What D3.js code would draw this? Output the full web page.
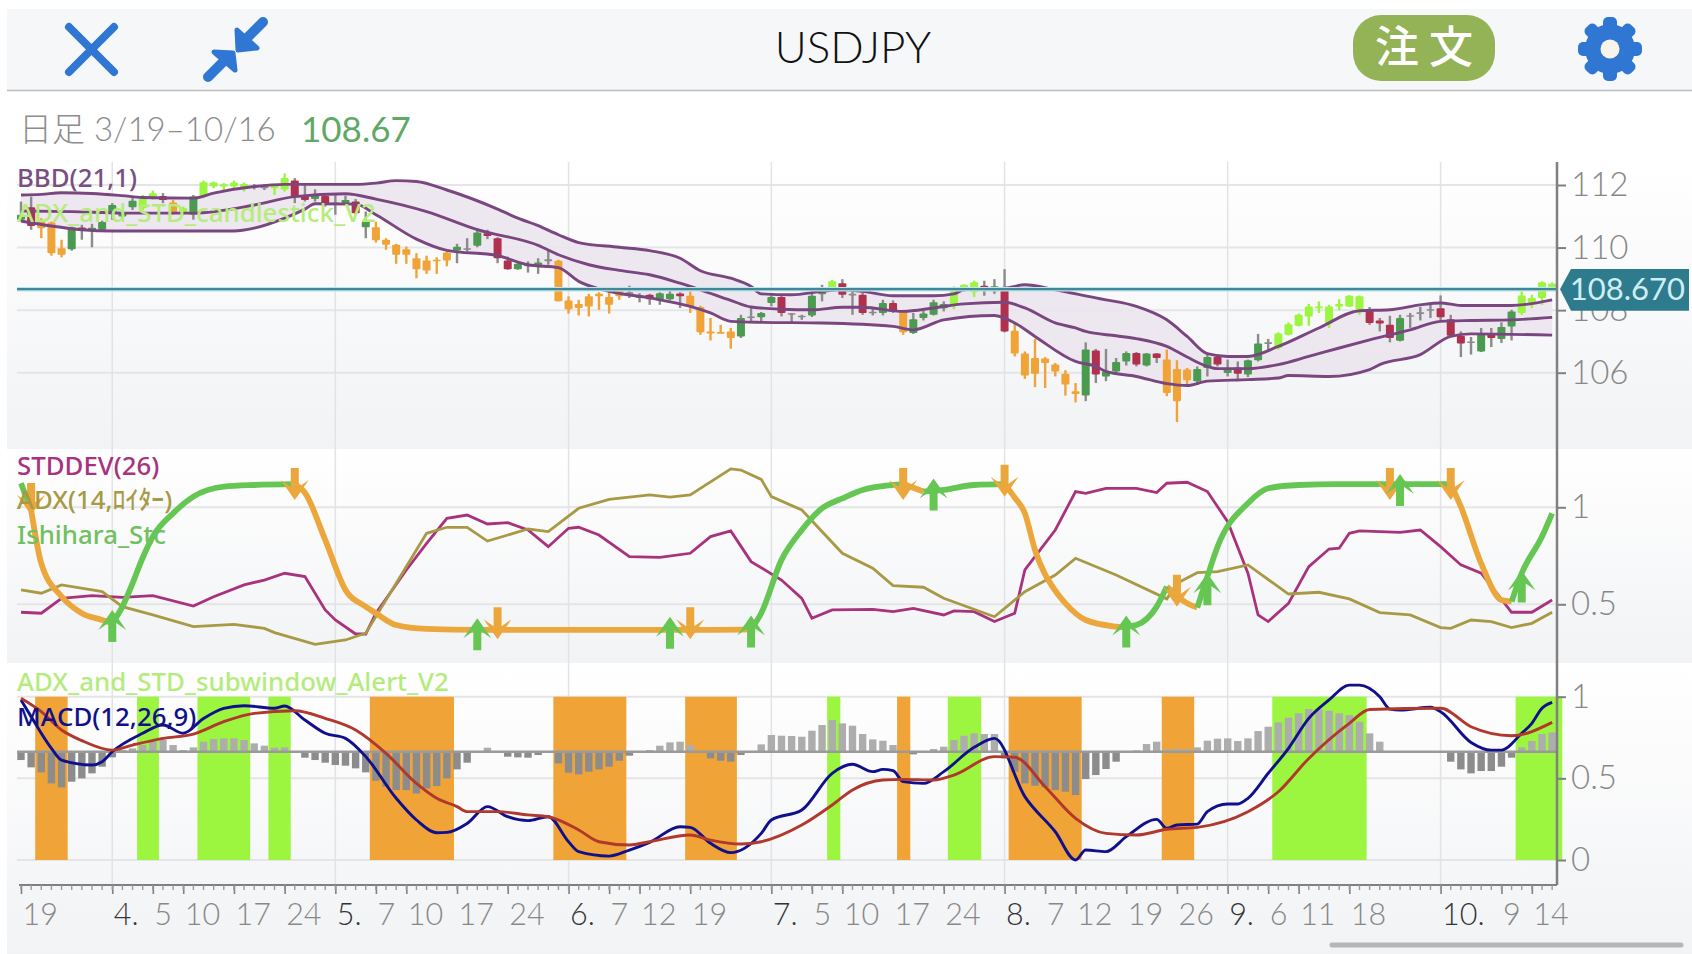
<!DOCTYPE html>
<html><head><meta charset="utf-8">
<script src="https://cdn.jsdelivr.net/npm/d3@7/dist/d3.min.js"></script>
<style>html,body{margin:0;padding:0;background:#fff;overflow:hidden}svg{display:block}text{font-family:Lato,"Noto Sans","Noto Sans CJK JP",sans-serif}</style>
</head><body><svg id="c" width="1692" height="954"></svg>
<script>
// ---------- data (high, body top, body bottom, low, kind: L strong up, G up, R down, O strong down)
const candlesMar=[[111.47,111.05,110.89,110.83,'G'],[111.63,111.29,110.69,110.57,'R'],[110.94,110.83,110.62,110.30,'O'],[110.83,110.80,109.82,109.74,'O'],[110.25,109.98,109.77,109.69,'O'],[110.67,110.65,109.95,109.90,'G'],[110.73,110.64,110.53,110.25,'R'],[110.76,110.63,110.55,110.01,'G'],[110.86,110.82,110.57,110.53,'G']];
const candlesApr=[[111.42,111.36,111.08,110.89,'G'],[111.20,111.10,110.99,110.94,'G'],[111.58,111.50,111.29,111.20,'G'],[111.68,111.63,111.26,111.18,'L'],[111.82,111.74,111.58,111.52,'L'],[111.74,111.65,111.52,111.42,'R'],[111.52,111.44,111.10,111.05,'O'],[111.31,111.26,111.10,111.05,'L'],[111.68,111.63,111.05,110.89,'G'],[112.14,112.09,111.63,111.58,'L'],[112.11,112.08,111.95,111.90,'L'],[112.06,112.02,111.95,111.82,'L'],[112.14,112.08,111.95,111.90,'L'],[112.08,112.03,111.90,111.79,'L'],[112.03,111.97,111.93,111.86,'G'],[112.03,111.97,111.90,111.84,'G'],[112.02,111.97,111.90,111.68,'L'],[112.37,112.22,111.86,111.79,'L'],[112.22,112.14,111.63,111.42,'R'],[112.00,111.63,111.52,111.47,'R'],[111.86,111.70,111.55,111.47,'G'],[111.74,111.65,111.40,111.31,'R']];
const candlesMay=[[111.68,111.44,111.40,111.05,'G'],[111.66,111.52,111.42,111.36,'G'],[111.55,111.47,111.10,111.05,'R'],[111.15,110.83,110.65,110.30,'G'],[110.83,110.65,110.23,110.16,'O'],[110.30,110.25,110.09,109.93,'O'],[110.12,110.09,109.77,109.48,'O'],[110.03,109.95,109.77,109.48,'O'],[109.82,109.66,109.31,109.02,'O'],[109.74,109.59,109.27,109.16,'O'],[109.69,109.61,109.56,109.16,'O'],[109.87,109.84,109.59,109.40,'O'],[110.12,110.03,109.91,109.50,'G'],[110.30,109.98,109.96,109.87,'G'],[110.62,110.48,110.06,110.01,'G'],[110.57,110.46,110.37,110.27,'R'],[110.33,110.30,109.66,109.50,'R'],[109.71,109.59,109.31,109.29,'R'],[109.52,109.48,109.31,109.29,'G'],[109.56,109.47,109.40,109.20,'R'],[109.66,109.52,109.40,109.16,'G'],[109.93,109.63,109.56,109.45,'G'],[109.61,109.58,108.28,108.28,'O']];
const candlesJun=[[108.44,108.31,108.03,107.89,'O'],[108.33,108.20,108.07,107.83,'O'],[108.52,108.44,108.12,107.80,'O'],[108.57,108.52,108.44,108.01,'O'],[108.65,108.42,108.17,107.89,'O'],[108.70,108.63,108.44,108.33,'O'],[108.78,108.57,108.51,108.39,'G'],[108.54,108.44,108.41,108.25,'G'],[108.52,108.49,108.35,108.17,'R'],[108.57,108.54,108.33,108.17,'G'],[108.67,108.52,108.35,108.31,'G'],[108.57,108.53,108.44,108.07,'R'],[108.60,108.46,108.12,107.91,'O'],[108.14,108.10,107.29,107.21,'O'],[107.75,107.32,107.25,107.03,'O'],[107.53,107.30,107.27,107.25,'O'],[107.43,107.32,107.11,106.77,'O'],[107.85,107.75,107.16,107.11,'G'],[108.10,107.80,107.75,107.64,'G'],[107.94,107.91,107.77,107.64,'G']];
const candlesJul=[[108.49,108.42,108.23,108.12,'G'],[108.46,108.42,107.91,107.80,'R'],[107.91,107.90,107.86,107.59,'R'],[107.85,107.82,107.80,107.69,'G'],[108.65,108.46,107.83,107.78,'G'],[108.81,108.74,108.51,108.28,'G'],[108.97,108.92,108.70,108.67,'L'],[108.99,108.86,108.49,108.39,'R'],[108.60,108.52,108.48,107.85,'G'],[108.57,108.49,107.91,107.85,'R'],[108.07,107.95,107.91,107.83,'G'],[108.33,108.23,107.91,107.83,'G'],[108.31,108.23,107.96,107.91,'R'],[108.01,107.96,107.29,107.21,'O'],[107.91,107.71,107.27,107.24,'G'],[107.98,107.89,107.75,107.67,'G'],[108.33,108.25,107.85,107.83,'G'],[108.28,108.20,108.06,107.96,'G'],[108.76,108.65,108.14,108.03,'L'],[108.83,108.81,108.65,108.60,'L'],[108.94,108.89,108.57,108.42,'L'],[108.94,108.78,108.65,108.46,'R'],[108.99,108.76,108.60,108.52,'G']];
const candlesAug=[[109.31,108.65,107.32,107.29,'R'],[107.59,107.34,106.61,106.52,'O'],[106.68,106.61,105.91,105.80,'O'],[107.08,106.47,105.97,105.54,'O'],[106.50,106.45,106.31,105.51,'O'],[106.31,106.26,106.04,105.88,'O'],[106.08,105.97,105.62,105.27,'O'],[105.67,105.41,105.32,105.05,'O'],[106.97,106.74,105.27,105.09,'G'],[106.76,106.71,105.94,105.67,'R'],[106.76,106.04,105.88,105.73,'G'],[106.47,106.34,106.04,105.99,'G'],[106.68,106.63,106.36,106.23,'G'],[106.66,106.63,106.26,106.20,'R'],[106.63,106.61,106.23,106.20,'G'],[106.63,106.61,106.47,106.31,'R'],[106.74,106.42,105.35,105.25,'O'],[106.40,106.12,105.09,104.42,'O'],[106.15,106.10,105.76,105.62,'O'],[106.20,106.12,105.73,105.62,'G'],[106.58,106.50,106.15,105.88,'G'],[106.54,106.50,106.26,106.20,'R']];
const candlesSep=[[106.42,106.15,105.99,105.88,'G'],[106.36,106.17,105.97,105.80,'R'],[106.42,106.40,105.94,105.86,'G'],[107.24,106.93,106.40,106.36,'G'],[107.08,106.97,106.93,106.70,'G'],[107.29,107.25,106.79,106.74,'L'],[107.61,107.55,107.21,107.19,'L'],[107.89,107.85,107.50,107.48,'L'],[108.20,108.12,107.80,107.50,'L'],[108.28,108.12,108.06,107.91,'L'],[108.17,108.12,107.57,107.43,'L'],[108.35,108.20,108.12,107.99,'L'],[108.48,108.46,108.12,108.10,'L'],[108.47,108.44,108.01,107.85,'L'],[108.10,107.98,107.59,107.53,'R'],[107.75,107.67,107.57,107.32,'R'],[107.82,107.53,107.11,106.97,'R'],[107.85,107.75,107.02,107.00,'G'],[107.91,107.84,107.79,107.43,'G'],[108.10,107.93,107.89,107.67,'G'],[108.20,108.03,107.99,107.75,'G']];
const candlesOct=[[108.47,108.06,107.77,107.67,'R'],[107.85,107.71,107.18,107.14,'R'],[107.32,107.18,106.93,106.50,'R'],[107.14,107.00,106.97,106.58,'G'],[107.43,107.21,106.68,106.66,'G'],[107.43,107.25,107.11,106.82,'R'],[107.61,107.46,107.08,106.95,'G'],[108.01,107.96,107.48,107.03,'G'],[108.60,108.47,107.91,107.85,'L'],[108.49,108.39,108.20,108.07,'L'],[108.92,108.89,108.39,108.17,'L'],[108.89,108.84,108.65,108.60,'L']];

const bbUpper=[[0,111.68],[2,111.70],[4,111.75],[7,111.73],[10,111.66],[12,111.60],[17,111.58],[19,111.74],[23,111.95],[26,112.02],[28,112.02],[33,112.02],[35,112.06],[37,112.14],[39,112.11],[42,111.84],[47,111.23],[49,110.94],[51,110.70],[53,110.41],[55,110.16],[59,110.01],[62,109.90],[65,109.66],[67,109.26],[70,109.02],[72,108.76],[73,108.52],[76,108.49],[79,108.60],[81,108.65],[83,108.60],[86,108.46],[90,108.46],[92,108.52],[93,108.65],[97,108.70],[99,108.81],[102,108.65],[106,108.39],[107,108.33],[110,108.12],[113,107.69],[115,107.16],[117,106.61],[119,106.52],[121,106.52],[124,106.84],[128,107.43],[132,107.98],[135,108.01],[138,108.17],[140,108.23],[142,108.15],[147,108.15],[151,108.33]];
const bbMiddle=[[0,111.17],[5,111.15],[10,111.10],[17,111.10],[23,111.36],[27,111.63],[32,111.72],[35,111.55],[40,111.15],[45,110.57],[51,110.07],[53,109.77],[56,109.45],[59,109.27],[62,109.13],[65,108.86],[67,108.65],[70,108.31],[72,108.10],[75,108.03],[78,108.01],[81,108.09],[83,108.09],[87,107.96],[90,108.07],[93,108.20],[97,108.25],[99,108.07],[102,107.59],[104,107.43],[105,107.32],[108,107.18],[110,107.09],[113,106.84],[115,106.50],[117,106.20],[118,106.13],[121,106.13],[124,106.26],[127,106.52],[130,106.79],[133,107.05],[137,107.37],[140,107.64],[143,107.67],[147,107.69],[151,107.77]];
const bbLower=[[0,110.85],[3,110.69],[6,110.57],[9,110.53],[17,110.53],[21,110.53],[23,110.62],[26,110.94],[28,111.23],[29,111.40],[33,111.39],[35,111.05],[39,110.27],[42,109.91],[47,109.74],[50,109.45],[53,109.36],[55,108.92],[58,108.60],[62,108.39],[66,108.12],[68,107.91],[70,107.64],[73,107.61],[79,107.59],[86,107.48],[88,107.37],[91,107.69],[96,107.83],[98,107.59],[100,107.16],[104,106.36],[106,106.20],[107,106.04],[110,105.88],[113,105.65],[115,105.59],[117,105.73],[121,105.78],[124,105.83],[125,105.91],[129,105.88],[133,106.10],[134,106.26],[138,106.58],[141,107.16],[143,107.24],[151,107.20]];
const lastPrice=108.67;

const stddev=[[0,.459],[2,.454],[4,.531],[7,.545],[10,.536],[13,.545],[17,.491],[19,.539],[22,.600],[24,.625],[26,.660],[28,.643],[30,.471],[31,.419],[33,.347],[34,.347],[35,.454],[38,.677],[40,.814],[42,.943],[44,.960],[46,.914],[48,.921],[50,.883],[52,.797],[54,.892],[55,.897],[57,.857],[60,.746],[63,.742],[66,.763],[68,.849],[70,.878],[72,.720],[75,.625],[77,.530],[78,.428],[80,.471],[84,.474],[86,.462],[88,.479],[91,.445],[92,.466],[94,.462],[96,.411],[98,.454],[99,.677],[102,.883],[104,1.081],[105,1.072],[107,1.098],[110,1.098],[112,1.076],[113,1.124],[115,1.129],[117,1.081],[119,.926],[121,.660],[122,.445],[123,.411],[125,.505],[127,.694],[129,.785],[130,.789],[131,.866],[132,.878],[136,.871],[138,.883],[140,.797],[142,.703],[144,.660],[147,.459],[149,.459],[151,.522]];
const adx=[[0,.574],[2,.557],[4,.600],[7,.574],[8,.565],[10,.488],[13,.445],[17,.385],[21,.397],[24,.376],[25,.354],[29,.294],[32,.316],[34,.351],[37,.608],[40,.866],[42,.897],[44,.897],[46,.826],[50,.888],[52,.875],[55,.995],[58,1.041],[62,1.064],[64,1.052],[66,1.064],[70,1.198],[71,1.192],[73,1.144],[74,1.055],[77,.986],[81,.763],[84,.686],[86,.596],[89,.588],[91,.531],[96,.436],[99,.565],[102,.651],[104,.737],[108,.651],[113,.528],[114,.608],[116,.663],[118,.668],[121,.703],[125,.553],[128,.562],[131,.528],[134,.457],[137,.445],[140,.380],[141,.376],[143,.419],[145,.411],[147,.380],[149,.402],[151,.459]];
const stcGreen=[
 [[0,1.124],[1,.986]],
 [[9,.402],[10,.488],[11,.608],[12,.74],[13,.849],[15,.969],[17,1.055],[20,1.106],[23,1.115],[27,1.119]],
 [[72,.371],[73,.454],[75,.729],[77,.883],[79,.995],[81,1.046],[83,1.089],[86,1.115],[87,1.12]],
 [[89,1.081],[91,1.09],[94,1.115],[97,1.119]],
 [[109,.385],[110,.393],[112,.488],[113,.591]],
 [[116,.483],[117,.643],[118,.797],[121,1.021],[123,1.098],[126,1.115],[130,1.119],[135,1.119],[141,1.119]],
 [[147,.514],[148,.66],[150,.849],[151,.969]]];
const stcOrange=[
 [[1,.986],[2,.711],[4,.540],[6,.454],[8,.419],[9,.402]],
 [[27,1.119],[28,1.075],[30,.832],[32,.574],[34,.488],[35,.454],[37,.393],[40,.373],[45,.368],[50,.368],[60,.368],[66,.368],[72,.371]],
 [[87,1.12],[89,1.081]],
 [[97,1.119],[98,1.05],[99,.969],[100,.78],[102,.57],[103,.505],[105,.419],[108,.385],[109,.38]],
 [[113,.591],[115,.505],[116,.483]],
 [[141,1.119],[142,1.003],[144,.711],[146,.522],[147,.514]]];
const arrowsUp=[[9,.471],[45,.428],[64,.436],[72,.442],[90,1.149],[109,.442],[117,.66],[136,1.172],[148,.674]];
const arrowsDown=[[1,.96],[27,1.038],[47,.32],[66,.32],[87,1.038],[97,1.055],[114,.488],[135,1.038],[141,1.038]];

const macd=[[0,.98],[1,.878],[3,.684],[4,.612],[7,.582],[8,.602],[9,.663],[12,.776],[14,.827],[16,.776],[18,.867],[20,.929],[22,.945],[25,.929],[26,.943],[28,.857],[30,.776],[32,.745],[34,.633],[37,.378],[39,.245],[41,.167],[42,.169],[44,.224],[46,.327],[48,.265],[50,.241],[52,.265],[54,.112],[55,.051],[58,.024],[60,.061],[62,.108],[65,.204],[66,.200],[68,.102],[70,.045],[73,.163],[74,.245],[77,.306],[80,.531],[82,.586],[84,.541],[85,.555],[86,.547],[87,.480],[89,.469],[91,.541],[94,.690],[96,.745],[99,.388],[102,.173],[104,.000],[105,.061],[107,.051],[109,.143],[112,.249],[113,.194],[114,.214],[116,.220],[117,.296],[119,.343],[120,.343],[121,.378],[123,.531],[125,.684],[127,.867],[129,.980],[131,1.071],[132,1.071],[134,1.000],[135,.924],[136,.918],[139,.935],[140,.908],[143,.720],[145,.673],[146,.673],[148,.776],[149,.837],[150,.929],[151,.965]];
const macdSignal=[[0,.990],[2,.908],[4,.796],[6,.731],[9,.673],[11,.704],[14,.745],[17,.771],[20,.847],[23,.898],[27,.914],[30,.867],[33,.796],[36,.653],[39,.469],[41,.378],[43,.327],[44,.296],[47,.296],[50,.276],[52,.265],[55,.184],[57,.112],[60,.092],[62,.112],[66,.153],[68,.122],[71,.098],[73,.112],[77,.214],[80,.337],[82,.429],[85,.490],[87,.494],[90,.490],[92,.520],[96,.633],[98,.629],[101,.449],[104,.255],[107,.163],[110,.153],[113,.188],[116,.200],[121,.296],[124,.418],[127,.622],[131,.837],[133,.922],[140,.929],[143,.816],[147,.761],[151,.843]];
const histValues=[-25,-47,-62,-95,-107,-90,-80,-65,-45,-17,5,10,20,30,37,20,5,13,30,38,40,40,35,25,18,12,13,0,-18,-25,-33,-40,-42,-50,-62,-87,-105,-115,-115,-125,-110,-103,-80,-53,-33,0,12,2,-15,-17,-18,-10,0,-35,-63,-68,-60,-53,-45,-27,-12,0,5,18,28,30,20,-2,-20,-27,-30,-10,-2,22,50,48,47,45,63,80,95,85,78,53,37,33,20,0,-8,0,8,15,35,48,55,53,53,-20,-60,-95,-102,-107,-115,-120,-130,-82,-70,-52,-30,0,4,23,30,7,9,7,13,33,39,40,32,40,62,75,88,102,115,128,127,123,115,110,90,55,30,0,0,0,0,0,0,-30,-53,-65,-58,-58,-45,-18,13,32,53,58];
const alertOrange=[[1.4,4.6],[34.4,42.7],[52.5,59.7],[65.5,70.6],[86.4,87.7],[97.4,104.6],[112.5,115.7]];
const alertLime=[[11.45,13.6],[17.4,22.6],[24.4,26.6],[79.5,80.8],[91.4,94.7],[123.4,132.7],[147.4,152]];

const monthStarts=[9,31,54,74,97,119,140];
const tickIdx=[0,9,13,16,21,26,31,35,38,43,48,54,58,61,66,74,78,81,86,91,97,101,104,109,114,119,123,126,131,140,146,149];
const tickText=['19','4.','5','10','17','24','5.','7','10','17','24','6.','7','12','19','7.','5','10','17','24','8.','7','12','19','26','9.','6','11','18','10.','9','14'];
const priceTicks=[112,110,108,106];
const stdTicks=[1,0.5];
const macdTicks=[1,0.5,0];

// ---------- layout
const W=1692,H=954,axisX=1557,plotL=17;
const c={lime:'#9cf53f',green:'#4a9a50',red:'#b0304e',orange:'#f0a336'};
const svg=d3.select('#c');
const x=d3.scaleLinear().domain([0,151]).range([21,21+151*10.14]);
const yP=d3.scaleLinear().domain([106,112]).range([372.7,185]);
const yS=d3.scaleLinear().domain([0.5,1]).range([604.3,507.3]);
const yM=d3.scaleLinear().domain([0,1]).range([860,696.7]);
const yH=d3.scaleLinear().domain([-130,130]).range([751.7+43.33,751.7-43.33]);

const defs=svg.append('defs');
const grad=defs.append('linearGradient').attr('id','g').attr('x1',0).attr('y1',0).attr('x2',0).attr('y2',1);
grad.append('stop').attr('offset','0%').attr('stop-color','#ffffff');
grad.append('stop').attr('offset','100%').attr('stop-color','#f2f3f5');
[[162,449],[449,663],[663,954]].forEach(p=>svg.append('rect').attr('x',7).attr('y',p[0]).attr('width',W-7).attr('height',p[1]-p[0]).attr('fill','url(#g)'));

// gridlines
const gridH=[...priceTicks.map(yP),...stdTicks.map(yS),...macdTicks.map(yM)];
svg.append('g').selectAll('line').data(gridH).join('line').attr('x1',plotL).attr('x2',axisX).attr('y1',d=>d).attr('y2',d=>d).attr('stroke','#e5e5e8').attr('stroke-width',2);
svg.append('g').selectAll('line').data(monthStarts).join('line').attr('x1',d=>x(d)).attr('x2',d=>x(d)).attr('y1',162).attr('y2',885).attr('stroke','#e2e3e6').attr('stroke-width',1.5);

// price panel
const smooth=(sx,sy)=>d3.line().x(d=>sx(d[0])).y(d=>sy(d[1])).curve(d3.curveMonotoneX);
const lineP=smooth(x,yP);
svg.append('path').attr('d',lineP(bbUpper)+'L'+lineP([...bbLower].reverse()).slice(1)+'Z').attr('fill','#ebe4ed').attr('fill-opacity',.9);
const candles=[...candlesMar,...candlesApr,...candlesMay,...candlesJun,...candlesJul,...candlesAug,...candlesSep,...candlesOct];
const gc=svg.append('g');
gc.selectAll('line').data(candles).join('line').attr('x1',(d,i)=>x(i)).attr('x2',(d,i)=>x(i)).attr('y1',d=>yP(d[0])).attr('y2',d=>yP(d[3]))
  .attr('stroke',d=>d[4]==='L'?c.lime:d[4]==='O'?c.orange:'#8b8b8b').attr('stroke-width',2.4);
const bcol=d=>{const small=yP(d[2])-yP(d[1])<2.2&&(d[4]==='G'||d[4]==='R');return small?'#8b8b8b':d[4]==='L'?c.lime:d[4]==='G'?c.green:d[4]==='R'?c.red:c.orange};
gc.selectAll('rect').data(candles).join('rect').attr('x',(d,i)=>x(i)-4).attr('width',8).attr('y',d=>yP(d[1])).attr('height',d=>Math.max(1.6,yP(d[2])-yP(d[1]))).attr('rx',1).attr('fill',bcol);
[bbUpper,bbMiddle,bbLower].forEach(s=>svg.append('path').attr('d',lineP(s)).attr('fill','none').attr('stroke','#7a4680').attr('stroke-width',2.9));
const pY=yP(lastPrice);
svg.append('line').attr('x1',plotL).attr('x2',axisX).attr('y1',pY).attr('y2',pY).attr('stroke','#bfe3ea').attr('stroke-width',4.5);
svg.append('line').attr('x1',plotL).attr('x2',axisX).attr('y1',pY).attr('y2',pY).attr('stroke','#3f8799').attr('stroke-width',2.2);

// std panel
const lin=d3.line().x(d=>x(d[0])).y(d=>yS(d[1]));
svg.append('path').attr('d',lin(stddev)).attr('fill','none').attr('stroke','#a8327c').attr('stroke-width',2.8);
svg.append('path').attr('d',lin(adx)).attr('fill','none').attr('stroke','#a89a45').attr('stroke-width',2.8);
const lineS=smooth(x,yS);
stcOrange.forEach(s=>svg.append('path').attr('d',lineS(s)).attr('fill','none').attr('stroke','#eca73c').attr('stroke-width',5.8));
stcGreen.forEach(s=>svg.append('path').attr('d',lineS(s)).attr('fill','none').attr('stroke','#66c653').attr('stroke-width',5.8));
const arrow='M0,0L14,20L4,13V32H-4V13L-14,20Z';
svg.append('g').selectAll('path').data(arrowsDown).join('path').attr('d',arrow).attr('fill','#eca73c').attr('transform',d=>`translate(${x(d[0])},${yS(d[1])}) scale(1,-1)`);
svg.append('g').selectAll('path').data(arrowsUp).join('path').attr('d',arrow).attr('fill','#66c653').attr('transform',d=>`translate(${x(d[0])},${yS(d[1])})`);

// macd panel
const region=(list,col)=>svg.append('g').selectAll('rect').data(list).join('rect').attr('x',d=>x(d[0])).attr('width',d=>x(d[1])-x(d[0])).attr('y',yM(1)).attr('height',yM(0)-yM(1)).attr('fill',col);
region(alertOrange,c.orange);region(alertLime,c.lime);
svg.append('g').selectAll('rect').data(histValues).join('rect').attr('x',(d,i)=>x(i)-3.7).attr('width',7.4)
  .attr('y',d=>Math.min(yH(d),yH(0))).attr('height',d=>Math.abs(yH(d)-yH(0))).attr('fill',d=>d<0?'#8c8c8c':'#adadad');
svg.append('line').attr('x1',plotL).attr('x2',axisX).attr('y1',yH(0)).attr('y2',yH(0)).attr('stroke','#9a9a9a').attr('stroke-width',2.4);
const lineM=smooth(x,yM);
svg.append('path').attr('d',lineM(macd)).attr('fill','none').attr('stroke','#10108c').attr('stroke-width',2.9);
svg.append('path').attr('d',lineM(macdSignal)).attr('fill','none').attr('stroke','#b0382c').attr('stroke-width',2.9);

// axes
const axisCol='#808080';
function styleRight(g,size){g.select('.domain').remove();g.selectAll('line').attr('stroke',axisCol).attr('stroke-width',2);g.selectAll('text').attr('fill','#888').attr('font-size',size).attr('font-weight',300).attr('x',14)}
svg.append('g').attr('transform',`translate(${axisX},0)`).call(d3.axisRight(yP).tickValues(priceTicks).tickSize(9).tickFormat(d3.format('d'))).call(g=>styleRight(g,33));
svg.append('g').attr('transform',`translate(${axisX},0)`).call(d3.axisRight(yS).tickValues(stdTicks).tickSize(9).tickFormat(d3.format('~g'))).call(g=>styleRight(g,33));
svg.append('g').attr('transform',`translate(${axisX},0)`).call(d3.axisRight(yM).tickValues(macdTicks).tickSize(9).tickFormat(d3.format('~g'))).call(g=>styleRight(g,33));
svg.append('line').attr('x1',axisX).attr('x2',axisX).attr('y1',162).attr('y2',885).attr('stroke',axisCol).attr('stroke-width',2.5);

const gx=svg.append('g').attr('transform','translate(0,885)').call(d3.axisBottom(x).tickValues(tickIdx).tickSize(9).tickFormat((d,i)=>tickText[i]));
gx.select('.domain').remove();
gx.selectAll('line').attr('stroke',axisCol).attr('stroke-width',1.6);
gx.selectAll('text').attr('text-anchor','start').attr('x',1).attr('y',18).attr('font-size',30.5).attr('font-weight',300)
  .attr('fill',(d,i)=>tickText[i].endsWith('.')?'#333':'#888').attr('dy','0.71em');
svg.append('line').attr('x1',19).attr('x2',axisX).attr('y1',885).attr('y2',885).attr('stroke',axisCol).attr('stroke-width',2);
svg.append('g').selectAll('line').data(d3.range(0,152)).join('line').attr('x1',d=>x(d)).attr('x2',d=>x(d)).attr('y1',885).attr('y2',890).attr('stroke','#999').attr('stroke-width',1.4);

// price tag
svg.append('path').attr('d',`M1560,${pY}L1571,269H1689V310.7H1571Z`).attr('fill','#2e7b8e');
svg.append('text').attr('x',1689-4).attr('y',pY).attr('dy','.36em').attr('text-anchor','end').attr('font-size',31).attr('font-weight',400).attr('fill','#cdeef3').text('108.670');

// legends
const legend=(t,y,col,w)=>svg.append('text').attr('x',17).attr('y',y).attr('dy','.36em').attr('font-size',25.8).attr('font-weight',w||500).attr('fill',col).style('font-family','"Noto Sans","Noto Sans CJK JP",sans-serif').text(t);
legend('BBD(21,1)',178,'#7a4f7f');
legend('ADX_and_STD_candlestick_V2',213,'#b6ec7c');
legend('STDDEV(26)',466,'#a8327c');
legend('ADX(14,ﾛｲﾀｰ)',500,'#a89a45');
legend('Ishihara_Stc',535,'#70c060');
legend('ADX_and_STD_subwindow_Alert_V2',682,'#b4ec7c');
legend('MACD(12,26,9)',717,'#10108c');

// header
svg.append('rect').attr('x',7).attr('y',9).attr('width',W-7).attr('height',81).attr('fill','#f6f7f9');
svg.append('line').attr('x1',7).attr('x2',W).attr('y1',90.5).attr('y2',90.5).attr('stroke','#bdbdbd').attr('stroke-width',1.5);
svg.append('text').attr('x',853).attr('y',47).attr('dy','.36em').attr('text-anchor','middle').attr('font-size',44).attr('fill','#111').attr('font-weight',300).text('USDJPY');
const blue='#2f77d3';
svg.append('path').attr('d','M69,27L114,72M114,27L69,72').attr('stroke',blue).attr('stroke-width',8).attr('stroke-linecap','round').attr('fill','none');
svg.append('path').attr('d','M263,22L246,39').attr('stroke',blue).attr('stroke-width',10).attr('stroke-linecap','round');
svg.append('path').attr('d','M208,77L225,60').attr('stroke',blue).attr('stroke-width',10).attr('stroke-linecap','round');
svg.append('path').attr('d','M237,30L257,48L238,50Z').attr('fill',blue).attr('stroke',blue).attr('stroke-width',5).attr('stroke-linejoin','round');
svg.append('path').attr('d','M214,52L233,53L235,70Z').attr('fill',blue).attr('stroke',blue).attr('stroke-width',5).attr('stroke-linejoin','round');
svg.append('rect').attr('x',1353).attr('y',15).attr('width',142).attr('height',66).attr('rx',28).attr('fill','#94b356');
svg.append('text').attr('x',1424).attr('y',47).attr('dy','.36em').attr('text-anchor','middle').attr('font-size',44).attr('font-weight',500).attr('fill','#fff').style('font-family','"Noto Sans CJK JP"').text('注 文');
const gear=svg.append('g').attr('transform','translate(1610,49)');
d3.range(8).forEach(i=>gear.append('rect').attr('x',-7).attr('y',-32).attr('width',14).attr('height',16).attr('rx',5).attr('fill',blue).attr('transform',`rotate(${i*45})`));
gear.append('circle').attr('r',25).attr('fill',blue);
gear.append('circle').attr('r',9.5).attr('fill','#f8f4ec');
svg.append('text').attr('x',19).attr('y',129).attr('dy','.36em').attr('font-size',33).attr('font-weight',300).attr('fill','#8d8d8d').text('日足 3/19–10/16');
svg.append('text').attr('x',301).attr('y',129).attr('dy','.36em').attr('font-size',35).attr('font-weight',400).attr('fill','#5fa865').text('108.67');
svg.append('line').attr('x1',1332).attr('x2',1681).attr('y1',945).attr('y2',945).attr('stroke','#b6b6b6').attr('stroke-width',5).attr('stroke-linecap','round');
</script></body></html>
